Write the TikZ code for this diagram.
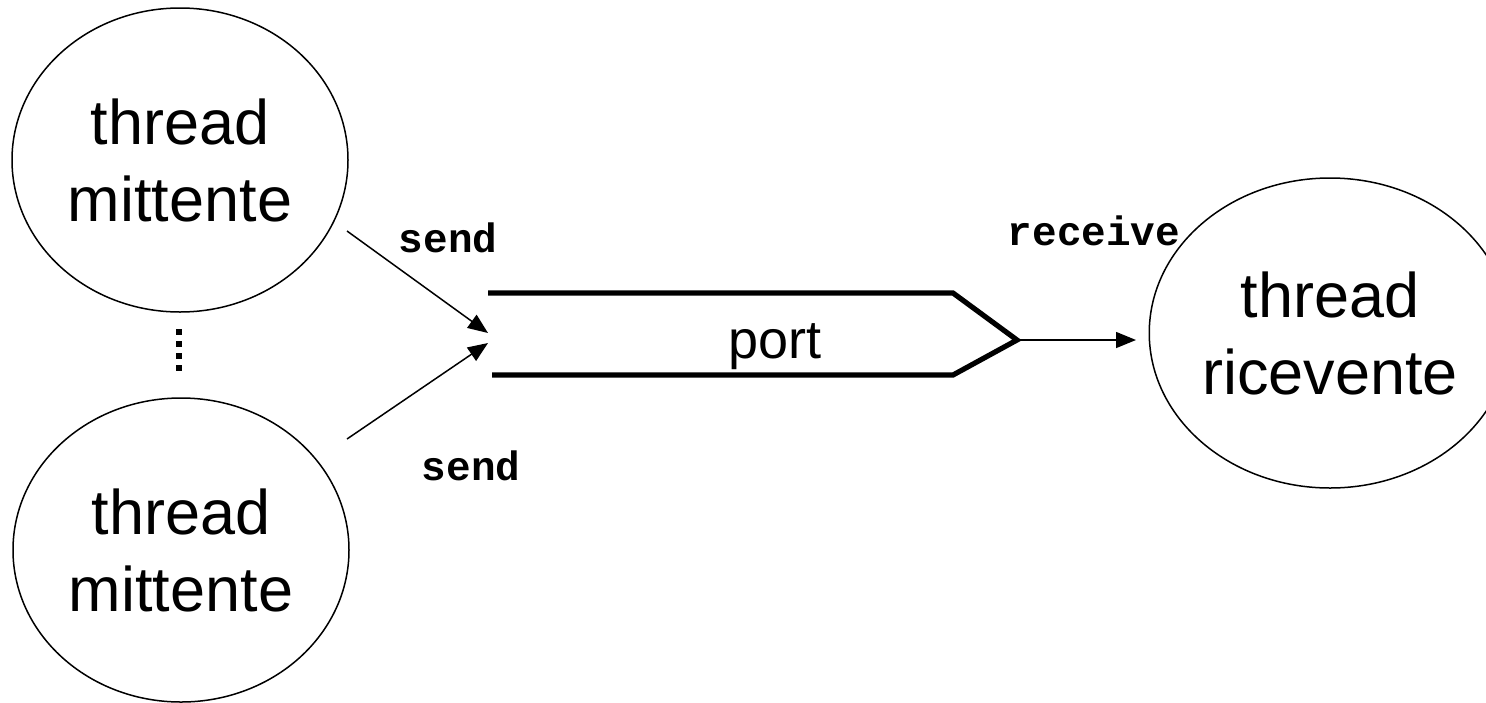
\documentclass[tikz,border=0pt]{standalone}
\usepackage{fontspec}
\setmainfont{Liberation Sans}
\newfontfamily\codefont{Liberation Mono}
\usetikzlibrary{arrows.meta,shapes.geometric}
\begin{document}
\begin{tikzpicture}[x=0.5pt,y=-0.5pt,
  thr/.style={draw,ellipse,line width=0.75pt,inner sep=0pt,align=center,
    font=\fontsize{31.5pt}{38.5pt}\selectfont},
  lbl/.style={font=\codefont\bfseries\fontsize{20.5pt}{24pt}\selectfont,anchor=base,inner sep=0pt},
  msg/.style={line width=0.75pt,-{Triangle[length=10pt,width=8pt]}},
  portline/.style={line width=2.6pt,line join=miter},
  dot/.style={fill=black,draw=none,minimum size=2.6pt,inner sep=0pt,rectangle}]
\useasboundingbox (0,0) rectangle (1486,702);
\begin{scope}
\clip (0,0) rectangle (1486,702);
\node[thr,minimum width=168pt,minimum height=152pt] (tm1) at (180,160) {thread\\mittente};
\node[thr,minimum width=168pt,minimum height=152pt] (tm2) at (181,550) {thread\\mittente};
\node[thr,minimum width=166pt,minimum height=155pt] (tr) at (1330,333) {thread\\ricevente};
\end{scope}
% dots
\node[dot] (d1) at (179,332) {};
\node[dot] (d2) at (179,344) {};
\node[dot] (d3) at (179,356) {};
\node[dot] (d4) at (179,368) {};
% port
\coordinate (ptl) at (488,293);
\coordinate (ptk) at (953,293);
\coordinate (tip) at (1017,340);
\coordinate (pbk) at (953,375);
\coordinate (pbl) at (492,375);
\draw[portline] (ptl) -- (ptk) -- (tip) -- (pbk) -- (pbl);
\node[anchor=base,inner sep=0pt,font=\fontsize{27pt}{32pt}\selectfont] (port) at (775,358) {port};
% arrows
\coordinate (s1) at (347,231);
\coordinate (e1) at (488,333);
\coordinate (s2) at (347,439);
\coordinate (e2) at (488,343);
\coordinate (e3) at (1136,340);
\draw[msg] (s1) -- (e1);
\draw[msg] (s2) -- (e2);
\draw[msg] (tip) -- (e3);
% labels
\node[lbl] (l1) at (448,252) {send};
\node[lbl] (l2) at (471,480) {send};
\node[lbl] (l3) at (1094,245) {receive};
\end{tikzpicture}
\end{document}
